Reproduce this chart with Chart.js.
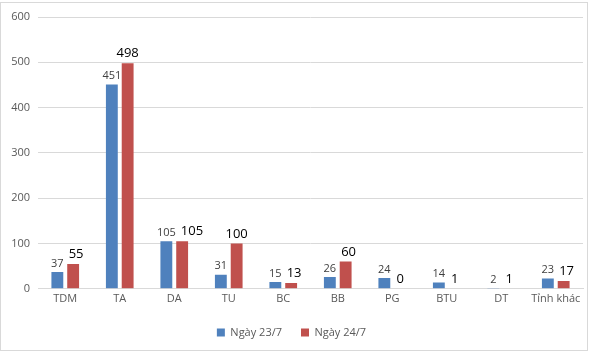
<!DOCTYPE html>
<html>
<head>
<meta charset="utf-8">
<script src="https://cdn.jsdelivr.net/npm/chart.js@4"></script>
<style>
  body { margin: 0; background: #fff; }
</style>
</head>
<body>
<canvas id="grafico" width="600" height="358"></canvas>
<script>
const categorias = ['TDM', 'TA', 'DA', 'TU', 'BC', 'BB', 'PG', 'BTU', 'DT', 'Tỉnh khác'];
const ngay23 = [37, 451, 105, 31, 15, 26, 24, 14, 2, 23];
const ngay24 = [55, 498, 105, 100, 13, 60, 0, 1, 1, 17];
const tickY = [0, 100, 200, 300, 400, 500, 600];

// ve so lieu tren cot (nhan do lech sang phai neu de len nhan xanh) va khung vien
const nhanCot = {
  id: 'nhanCot',
  afterDatasetsDraw(chart) {
    const ctx = chart.ctx;
    const m0 = chart.getDatasetMeta(0);
    const m1 = chart.getDatasetMeta(1);
    ctx.save();
    ctx.textBaseline = 'bottom';
    ctx.textAlign = 'center';
    m0.data.forEach(function (b0, j) {
      const b1 = m1.data[j];
      const t0 = String(ngay23[j]);
      const t1 = String(ngay24[j]);
      ctx.font = '11px "Open Sans"';
      const w0 = ctx.measureText(t0).width;
      ctx.fillStyle = '#404040';
      ctx.fillText(t0, b0.x, b0.y - 3);
      ctx.font = '13px "Open Sans"';
      const w1 = ctx.measureText(t1).width;
      let x1 = b1.x;
      const phai0 = b0.x + w0 / 2 + 5;
      const trai1 = x1 - w1 / 2;
      const chong = Math.abs(b0.y - b1.y) < 16;
      if (chong && trai1 < phai0) x1 += phai0 - trai1;
      ctx.fillStyle = '#000';
      ctx.fillText(t1, x1, b1.y - 3);
    });
    ctx.restore();
  },
  afterDraw(chart) {
    const ctx = chart.ctx;
    ctx.save();
    ctx.strokeStyle = '#d9d9d9';
    ctx.lineWidth = 1;
    ctx.strokeRect(0.5, 2.5, 587, 348);
    ctx.restore();
  }
};

new Chart(document.getElementById('grafico'), {
  type: 'bar',
  data: {
    labels: categorias,
    datasets: [{
      label: 'Ngày 23/7',
      data: ngay23,
      backgroundColor: '#4F81BD',
      borderColor: '#4F81BD',
      categoryPercentage: 0.58,
      barPercentage: 0.75
    }, {
      label: 'Ngày 24/7',
      data: ngay24,
      backgroundColor: '#C0504D',
      borderColor: '#C0504D',
      categoryPercentage: 0.58,
      barPercentage: 0.75
    }]
  },
  options: {
    responsive: false,
    animation: false,
    devicePixelRatio: 1,
    layout: { padding: { left: 0, right: 17, top: 17, bottom: 10 } },
    scales: {
      x: {
        grid: { display: false, drawTicks: false },
        border: { color: '#d9d9d9' },
        ticks: {
          color: '#595959',
          font: { family: 'Open Sans', size: 11 },
          padding: 3,
          maxRotation: 0,
          autoSkip: false
        }
      },
      y: {
        min: 0,
        max: 600,
        afterBuildTicks(axis) { axis.ticks = tickY.map(v => ({ value: v })); },
        afterFit(axis) { axis.width = 38; },
        grid: { color: '#d9d9d9', drawTicks: false },
        border: { display: false },
        ticks: { color: '#595959', font: { family: 'Open Sans', size: 11 }, padding: 8 }
      }
    },
    plugins: {
      legend: {
        position: 'bottom',
        labels: {
          color: '#595959',
          font: { family: 'Open Sans', size: 11 },
          boxWidth: 8,
          boxHeight: 8,
          padding: 19
        }
      },
      tooltip: { enabled: false }
    }
  },
  plugins: [nhanCot]
});
</script>
</body>
</html>
